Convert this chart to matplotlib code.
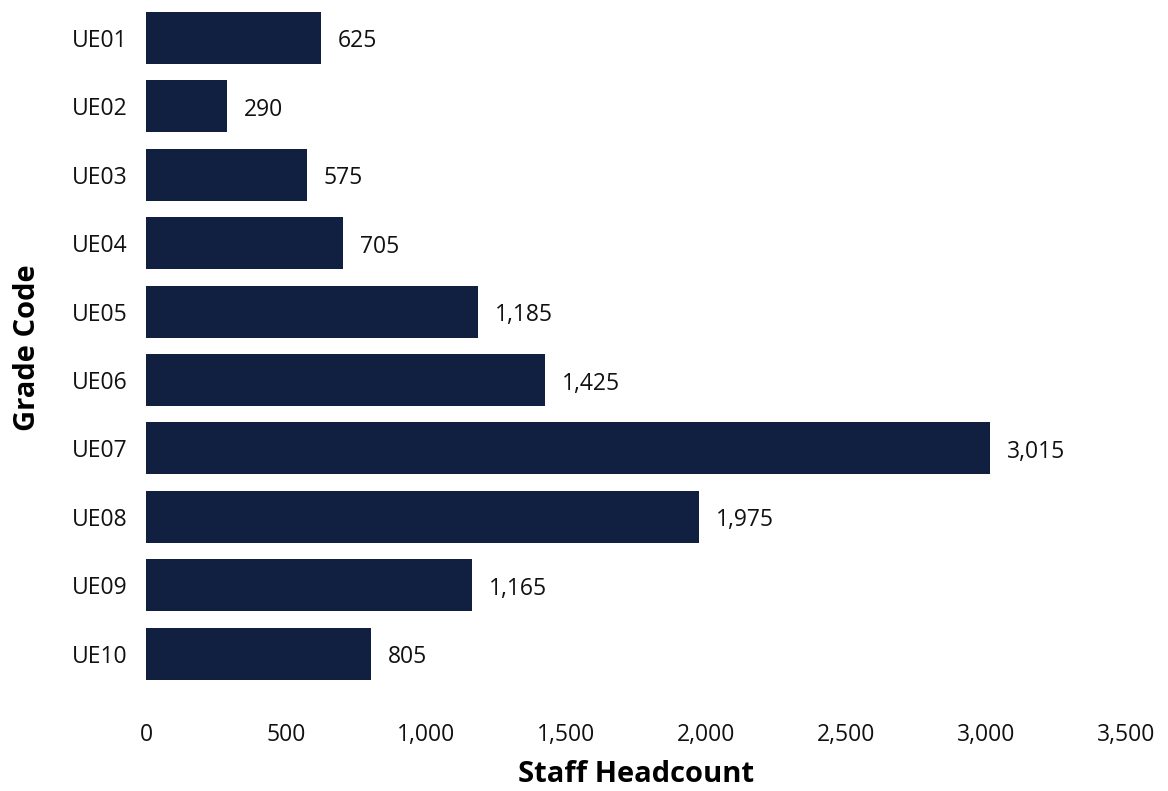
import matplotlib.pyplot as plt
from matplotlib.ticker import FuncFormatter

# Data
grades = ['UE01', 'UE02', 'UE03', 'UE04', 'UE05', 'UE06', 'UE07', 'UE08', 'UE09', 'UE10']
headcount = [625, 290, 575, 705, 1185, 1425, 3015, 1975, 1165, 805]
xticks = [0, 500, 1000, 1500, 2000, 2500, 3000, 3500]

plt.rcParams['font.family'] = ['Open Sans', 'DejaVu Sans']

fig = plt.figure(figsize=(11.68, 7.91), dpi=100)
ax = fig.add_axes([0.125, 0.1217, 0.839, 0.8778])

ypos = list(range(len(grades)))
ax.barh(ypos, headcount, height=0.76, color='#111f40')

# value labels next to each bar
for y, v in zip(ypos, headcount):
    ax.annotate(f'{v:,}', xy=(v, y), xytext=(12, -2.5), textcoords='offset points',
                va='center', ha='left', fontsize=16.5, color='#111111')

ax.set_yticks(ypos)
ax.set_yticklabels(grades)
ax.set_ylim(9.6, -0.55)
ax.set_xlim(0, 3500)
ax.set_xticks(xticks)
ax.xaxis.set_major_formatter(FuncFormatter(lambda x, p: f'{int(x):,}'))

ax.tick_params(axis='both', length=0, labelsize=16.5, colors='#111111')
ax.tick_params(axis='y', pad=13)
ax.tick_params(axis='x', pad=20)
for s in ax.spines.values():
    s.set_visible(False)

ax.set_xlabel('Staff Headcount', fontsize=21, fontweight='bold')
ax.set_ylabel('Grade Code', fontsize=21, fontweight='bold')
ax.xaxis.set_label_coords(0.5, -0.094)
ax.yaxis.set_label_coords(-0.106, 0.5)

fig.savefig('out.png', dpi=100)
